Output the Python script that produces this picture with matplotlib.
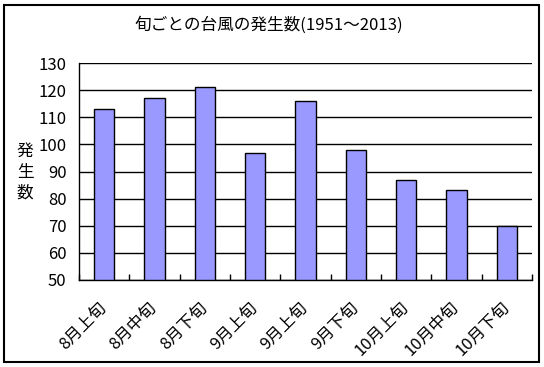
import matplotlib
matplotlib.use("Agg")
import matplotlib.pyplot as plt
from matplotlib.patches import Rectangle
import numpy as np

plt.rcParams['font.family'] = ['Noto Sans CJK JP', 'DejaVu Sans']

categories = ['8月上旬', '8月中旬', '8月下旬', '9月上旬', '9月上旬',
              '9月下旬', '10月上旬', '10月中旬', '10月下旬']
values = [113, 117, 121, 97, 116, 98, 87, 83, 70]
yticks = [50, 60, 70, 80, 90, 100, 110, 120, 130]

W, H = 544, 367
fig = plt.figure(figsize=(W / 100, H / 100), dpi=100)
ax = fig.add_axes([79 / W, 1 - 280 / H, (532 - 79) / W, (280 - 63) / H])

x = np.arange(len(categories))
ax.bar(x, values, width=0.41, color='#9999FF', edgecolor='black', linewidth=1.0,
       bottom=0, zorder=3)
ax.set_ylim(50, 130)
ax.set_xlim(-0.5, len(categories) - 0.5)
ax.set_yticks(yticks)
ax.set_yticklabels([str(v) for v in yticks], fontsize=12)
ax.tick_params(axis='y', length=0, pad=9)
ax.yaxis.grid(True, color='black', linewidth=1.0, zorder=0)
ax.set_axisbelow(True)

ax.set_xticks(x)
ax.set_xticklabels(categories, rotation=45, ha='right', va='center',
                   rotation_mode='anchor', fontsize=12)
ax.tick_params(axis='x', length=0, pad=18)
ax.set_xticks(np.arange(-0.5, len(categories), 1.0), minor=True)
ax.tick_params(axis='x', which='minor', direction='in', length=4, width=1)

for s in ['top', 'right']:
    ax.spines[s].set_visible(False)
for s in ['left', 'bottom']:
    ax.spines[s].set_linewidth(1.0)
    ax.spines[s].set_zorder(4)

fig.text(269 / W, 1 - 25 / H, '旬ごとの台風の発生数(1951～2013)', ha='center', va='center',
         fontsize=12)
fig.text(25 / W, 1 - 172 / H, '発\n生\n数', ha='center', va='center', fontsize=12,
         linespacing=1.3)

fig.patches.append(Rectangle((4 / W, 5 / H), (539 - 4) / W, (362 - 5) / H,
                             transform=fig.transFigure, fill=False,
                             edgecolor='black', linewidth=1.5))

fig.savefig('out.png', dpi=100)
